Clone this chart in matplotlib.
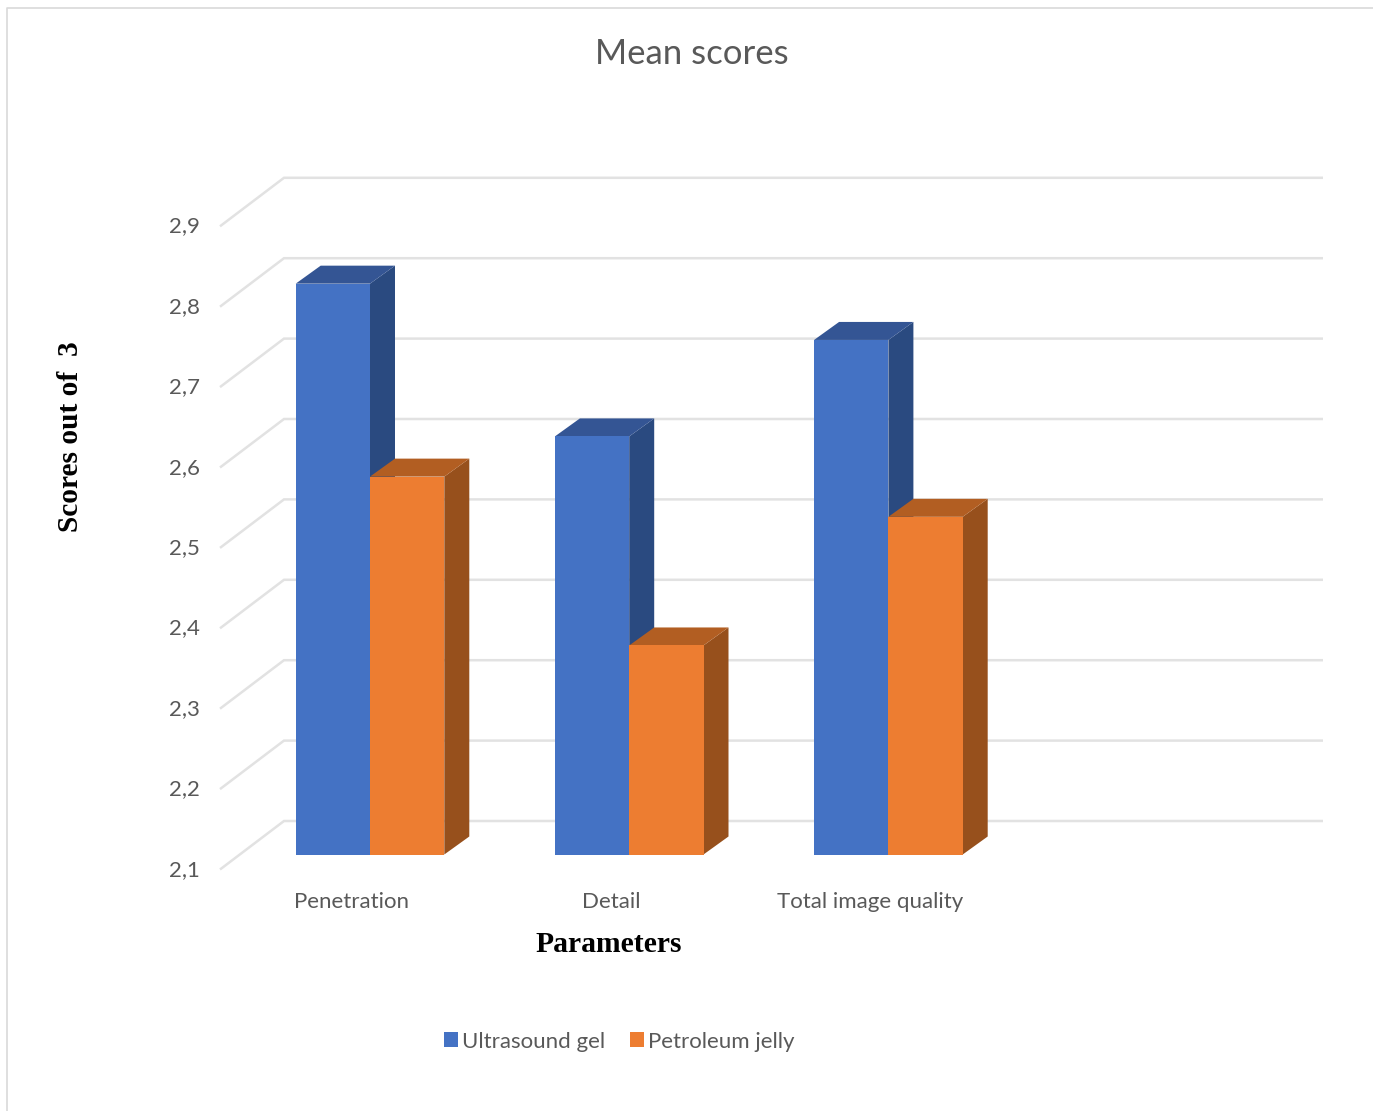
import matplotlib
matplotlib.use("Agg")
import matplotlib.pyplot as plt
from matplotlib.patches import Polygon
from matplotlib.lines import Line2D

categories = ["Penetration", "Detail", "Total image quality"]
series_names = ["Ultrasound gel", "Petroleum jelly"]
ultrasound_gel = [2.81, 2.62, 2.74]
petroleum_jelly = [2.57, 2.36, 2.52]
tick_values = [2.1, 2.2, 2.3, 2.4, 2.5, 2.6, 2.7, 2.8, 2.9]
tick_labels = ["2,1", "2,2", "2,3", "2,4", "2,5", "2,6", "2,7", "2,8", "2,9"]

FRONT = ["#4472C4", "#ED7D31"]
SIDE = ["#2A4A80", "#97501C"]
TOP = ["#345594", "#B25E22"]
GRID = "#E2E2E2"
TEXT = "#595959"

W, H = 1373, 1111
plt.rcParams["font.family"] = ["Lato", "DejaVu Sans"]
fig = plt.figure(figsize=(W / 100, H / 100), dpi=100, facecolor="white")
ax = fig.add_axes([0, 0, 1, 1])

# Layout scales: one category step and one unit of score, in pixels.
CAT_PX = 259.2
UNIT_PX = 804.0
ORIGIN_X = 370.0
BASE_Y = 854.5
BASE_VALUE = 2.1
ax.set_xlim(-ORIGIN_X / CAT_PX, (W - ORIGIN_X) / CAT_PX)
ax.set_ylim(BASE_VALUE - (H - BASE_Y) / UNIT_PX, BASE_VALUE + BASE_Y / UNIT_PX)
ax.axis("off")


def dx(px):
    return px / CAT_PX


def dy(px):
    return px / UNIT_PX


bar_w = dx(74.3)
depth_x, depth_y = dx(25), dy(18)

# Back wall gridlines with their short receding floor segments.
wall_left = dx(284 - ORIGIN_X)
wall_right = dx(1323 - ORIGIN_X)
edge_left = dx(220 - ORIGIN_X)
for v, label in zip(tick_values, tick_labels):
    wall_y = v + dy(33.5)
    ax.plot([edge_left, wall_left, wall_right],
            [wall_y - dy(48.5), wall_y, wall_y],
            color=GRID, lw=1.8, solid_joinstyle="miter",
            solid_capstyle="butt", zorder=1)
    ax.annotate(label, (dx(199.5 - ORIGIN_X), v),
                xytext=(0, -10.9), textcoords="offset points",
                ha="right", va="center", fontsize=16, color=TEXT)


def draw_bar(x_left, value, idx, order):
    x_right = x_left + bar_w
    side = [(x_right, BASE_VALUE), (x_right + depth_x, BASE_VALUE + depth_y),
            (x_right + depth_x, value + depth_y), (x_right, value)]
    top = [(x_left, value), (x_left + depth_x, value + depth_y),
           (x_right + depth_x, value + depth_y), (x_right, value)]
    ax.add_patch(Polygon(side, closed=True, fc=SIDE[idx], ec="none", zorder=order))
    ax.add_patch(Polygon(top, closed=True, fc=TOP[idx], ec="none", zorder=order))
    ax.bar(x_left, value - BASE_VALUE, bottom=BASE_VALUE, width=bar_w,
           align="edge", color=FRONT[idx], zorder=order + 0.5)


for i, cat in enumerate(categories):
    draw_bar(i - bar_w, ultrasound_gel[i], 0, 2 + i)
    draw_bar(i, petroleum_jelly[i], 1, 3 + i)
    ax.annotate(cat, (i - dx(18), BASE_VALUE), xytext=(0, -34.4),
                textcoords="offset points", ha="center", va="center",
                fontsize=16, color=TEXT)

# Chart title, axis titles and the outer frame of the chart area.
fig.text(692 / W, 1 - 54 / H, "Mean scores", ha="center", va="center",
         fontsize=25, color=TEXT)
fig.text(609 / W, 1 - 944 / H, "Parameters", ha="center", va="center",
         fontsize=21.3, fontweight="bold", family="Liberation Serif", color="black")
fig.text(71 / W, 1 - 437 / H, "Scores out of  3", ha="center", va="center",
         rotation=90, fontsize=21.2, fontweight="bold", family="Liberation Serif",
         color="black")

frame = "#D9D9D9"
fig.add_artist(Line2D([7 / W, 7 / W, 1], [0, 1 - 8 / H, 1 - 8 / H],
                      color=frame, lw=1.2, transform=fig.transFigure))

handles = [plt.Rectangle((0, 0), 1, 1, fc=c, ec="none") for c in FRONT]
fig.legend(handles, series_names, loc="center", bbox_to_anchor=(619 / W, 1 - 1041.5 / H),
           ncols=2, frameon=False, fontsize=16, labelcolor=TEXT, handlelength=0.63,
           handleheight=0.63, handletextpad=0.2, columnspacing=1.1)

fig.savefig("out.png", dpi=100, facecolor="white")
